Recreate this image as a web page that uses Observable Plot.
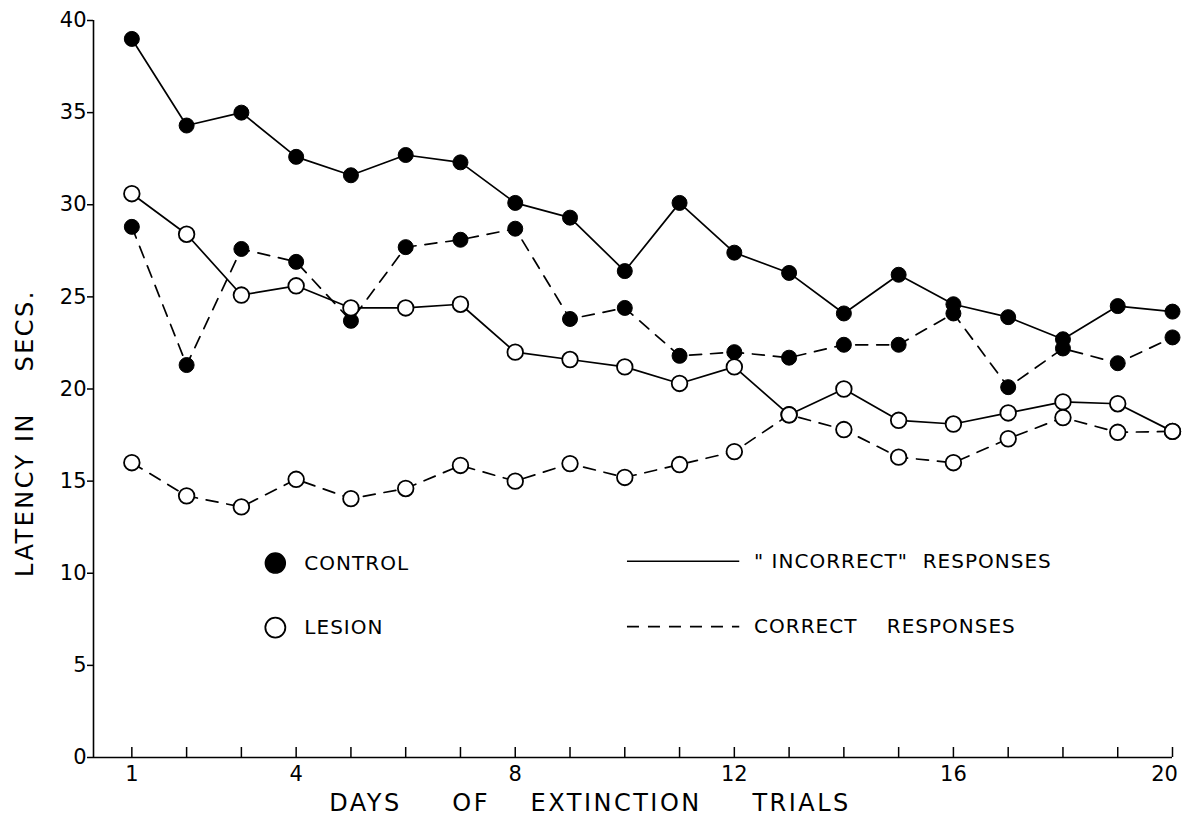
<!DOCTYPE html>
<html><head><meta charset="utf-8">
<script src="https://cdn.jsdelivr.net/npm/d3@7"></script>
<script src="https://cdn.jsdelivr.net/npm/@observablehq/plot@0.6"></script>
<style>
body{margin:0;background:#fff}
</style>
</head><body><div id="chart"></div>
<script>
// ---- data ----
const days = d3.range(1, 21);
const controlIncorrect = [39.0,34.3,35.0,32.6,31.6,32.7,32.3,30.1,29.3,26.4,30.1,27.4,26.3,24.1,26.2,24.6,23.9,22.7,24.5,24.2];
const controlCorrect   = [28.8,21.3,27.6,26.9,23.7,27.7,28.1,28.7,23.8,24.4,21.8,22.0,21.7,22.4,22.4,24.1,20.1,22.2,21.4,22.8];
const lesionIncorrect  = [30.6,28.4,25.1,25.6,24.4,24.4,24.6,22.0,21.6,21.2,20.3,21.2,18.6,20.0,18.3,18.1,18.7,19.3,19.2,17.7];
const lesionCorrect    = [16.0,14.2,13.6,15.1,14.05,14.6,15.85,15.0,15.95,15.2,15.9,16.6,18.6,17.8,16.3,16.0,17.3,18.45,17.65,17.7];
const xTickLabels = [1, 4, 8, 12, 16];
const xLastTick = [20];
const yTicks = [0, 5, 10, 15, 20, 25, 30, 35, 40];
const sp = n => "\u00a0".repeat(n);
const xTitle = "DAYS" + sp(5) + "OF" + sp(4) + "EXTINCTION" + sp(5) + "TRIALS";
const yTitle = "LATENCY" + sp(1) + "IN" + sp(4) + "SECS.";
const groupLabels = ["CONTROL", "LESION"];
const typeLabels = ["\"" + sp(1) + "INCORRECT\"" + sp(2) + "RESPONSES", "CORRECT" + sp(4) + "RESPONSES"];

// legend placement (in data units)
const legendGroup = [
  {label: groupLabels[0], x: 3.62, y: 10.55, tx: 4.15, filled: true},
  {label: groupLabels[1], x: 3.62, y: 7.05, tx: 4.15, filled: false}
];
const legendType = [
  {label: typeLabels[0], x1: 10.04, x2: 12.09, y: 10.65, tx: 12.36, dashed: false},
  {label: typeLabels[1], x1: 10.04, x2: 12.09, y: 7.1, tx: 12.36, dashed: true}
];

const series = [
  {group: "control", type: "incorrect", values: controlIncorrect},
  {group: "control", type: "correct", values: controlCorrect},
  {group: "lesion", type: "incorrect", values: lesionIncorrect},
  {group: "lesion", type: "correct", values: lesionCorrect}
];
const rows = series.flatMap(s => s.values.map((v, i) => ({day: days[i], value: v, group: s.group, type: s.type})));

const xMin = 0.3;
const font = "DejaVu Sans";
const dash = "12,9";

const chart = Plot.plot({
  width: 1183,
  height: 818,
  marginTop: 20,
  marginBottom: 61,
  marginLeft: 93,
  marginRight: 11,
  style: {fontFamily: font, fontSize: "20px", color: "black", background: "white"},
  x: {domain: [xMin, 20]},
  y: {domain: [0, 40]},
  marks: [
    Plot.ruleY([0], {stroke: "black", strokeWidth: 1.6}),
    Plot.ruleX([xMin], {stroke: "black", strokeWidth: 1.6}),
    Plot.axisY({ticks: yTicks, tickSize: 6, tickPadding: 1, label: null, fontSize: 21, strokeWidth: 1.5}),
    Plot.axisX({ticks: xTickLabels, tickSize: 0, tickPadding: 9, label: null, fontSize: 21}),
    Plot.axisX({ticks: xLastTick, tickSize: 0, tickPadding: 9, label: null, fontSize: 21, dx: -8}),
    Plot.axisX({ticks: days, tickSize: 10, dy: -10, tickFormat: () => "", label: null, strokeWidth: 1.5}),
    Plot.text([xTitle], {frameAnchor: "bottom", textAnchor: "middle", dx: -43, dy: 46, fontSize: 24, lineAnchor: "middle"}),
    Plot.text([yTitle], {frameAnchor: "left", textAnchor: "middle", lineAnchor: "middle", dx: -68, dy: 44, rotate: -90, fontSize: 24}),
    Plot.line(rows.filter(d => d.type === "incorrect"), {x: "day", y: "value", z: "group", stroke: "black", strokeWidth: 1.7}),
    Plot.line(rows.filter(d => d.type === "correct"), {x: "day", y: "value", z: "group", stroke: "black", strokeWidth: 1.7, strokeDasharray: dash}),
    Plot.dot(rows.filter(d => d.group === "control"), {x: "day", y: "value", r: 7.5, fill: "black", stroke: "black", strokeWidth: 1}),
    Plot.dot(rows.filter(d => d.group === "lesion"), {x: "day", y: "value", r: 7.8, fill: "white", stroke: "black", strokeWidth: 1.8}),
    // legend
    Plot.dot(legendGroup.filter(d => d.filled), {x: "x", y: "y", r: 10, fill: "black", stroke: "black"}),
    Plot.dot(legendGroup.filter(d => !d.filled), {x: "x", y: "y", r: 10, fill: "white", stroke: "black", strokeWidth: 1.8}),
    Plot.text(legendGroup, {x: "tx", y: "y", text: "label", textAnchor: "start", fontSize: 20}),
    Plot.link(legendType.filter(d => !d.dashed), {x1: "x1", x2: "x2", y1: "y", y2: "y", stroke: "black", strokeWidth: 1.7}),
    Plot.link(legendType.filter(d => d.dashed), {x1: "x1", x2: "x2", y1: "y", y2: "y", stroke: "black", strokeWidth: 1.7, strokeDasharray: dash}),
    Plot.text(legendType, {x: "tx", y: "y", text: "label", textAnchor: "start", fontSize: 20})
  ]
});
document.getElementById("chart").appendChild(chart);

// letter spacing to match the hand lettering
const titleTexts = [xTitle, yTitle];
const legendTexts = [...groupLabels, ...typeLabels];
d3.select(chart).selectAll("text").each(function() {
  const t = this.textContent;
  if (titleTexts.includes(t)) this.style.letterSpacing = "2.5px";
  else if (legendTexts.includes(t)) this.style.letterSpacing = "1px";
});
</script>
</body></html>
